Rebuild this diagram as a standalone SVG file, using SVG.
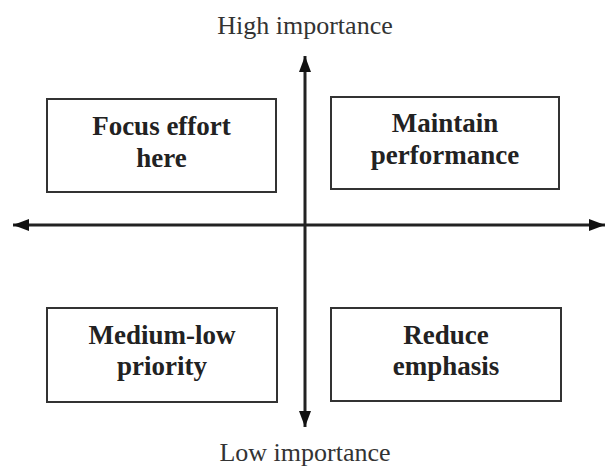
<svg xmlns="http://www.w3.org/2000/svg" width="605" height="466" viewBox="0 0 605 466">
  <defs>
    <marker id="arrow" viewBox="0 0 16 12" refX="16" refY="6" markerWidth="16" markerHeight="12" markerUnits="userSpaceOnUse" orient="auto-start-reverse">
      <path d="M0,0 L16,6 L0,12 Z" fill="#111"/>
    </marker>
    <style>
      .box { fill: #fff; stroke: #333; stroke-width: 2; }
      .label { font-family: "Liberation Serif", "Times New Roman", serif; font-weight: bold; font-size: 27px; fill: #222; text-anchor: middle; }
      .axis-label { font-family: "Liberation Serif", "Times New Roman", serif; font-size: 26px; fill: #333; text-anchor: middle; }
      .axis { stroke: #222; stroke-width: 3; fill: none; }
    </style>
  </defs>
  <rect width="605" height="466" fill="#fff"/>

  <g id="connectors">
    <line class="axis" x1="305" y1="56" x2="305" y2="427" marker-start="url(#arrow)" marker-end="url(#arrow)"/>
    <line class="axis" x1="13" y1="225" x2="605" y2="225" marker-start="url(#arrow)" marker-end="url(#arrow)"/>
  </g>

  <g id="label-high">
    <text class="axis-label" x="305" y="34">High importance</text>
  </g>
  <g id="label-low">
    <text class="axis-label" x="305" y="461">Low importance</text>
  </g>

  <g id="focus-effort">
    <rect class="box" x="47" y="99" width="229" height="93"/>
    <text class="label" x="161.5" y="135">Focus effort</text>
    <text class="label" x="161.5" y="167">here</text>
  </g>
  <g id="maintain-performance">
    <rect class="box" x="331" y="97" width="228" height="92"/>
    <text class="label" x="445" y="132">Maintain</text>
    <text class="label" x="445" y="164">performance</text>
  </g>
  <g id="medium-low-priority">
    <rect class="box" x="47" y="308" width="230" height="94"/>
    <text class="label" x="162" y="344">Medium-low</text>
    <text class="label" x="162" y="375">priority</text>
  </g>
  <g id="reduce-emphasis">
    <rect class="box" x="331" y="308" width="230" height="93"/>
    <text class="label" x="446" y="344">Reduce</text>
    <text class="label" x="446" y="375">emphasis</text>
  </g>
</svg>
